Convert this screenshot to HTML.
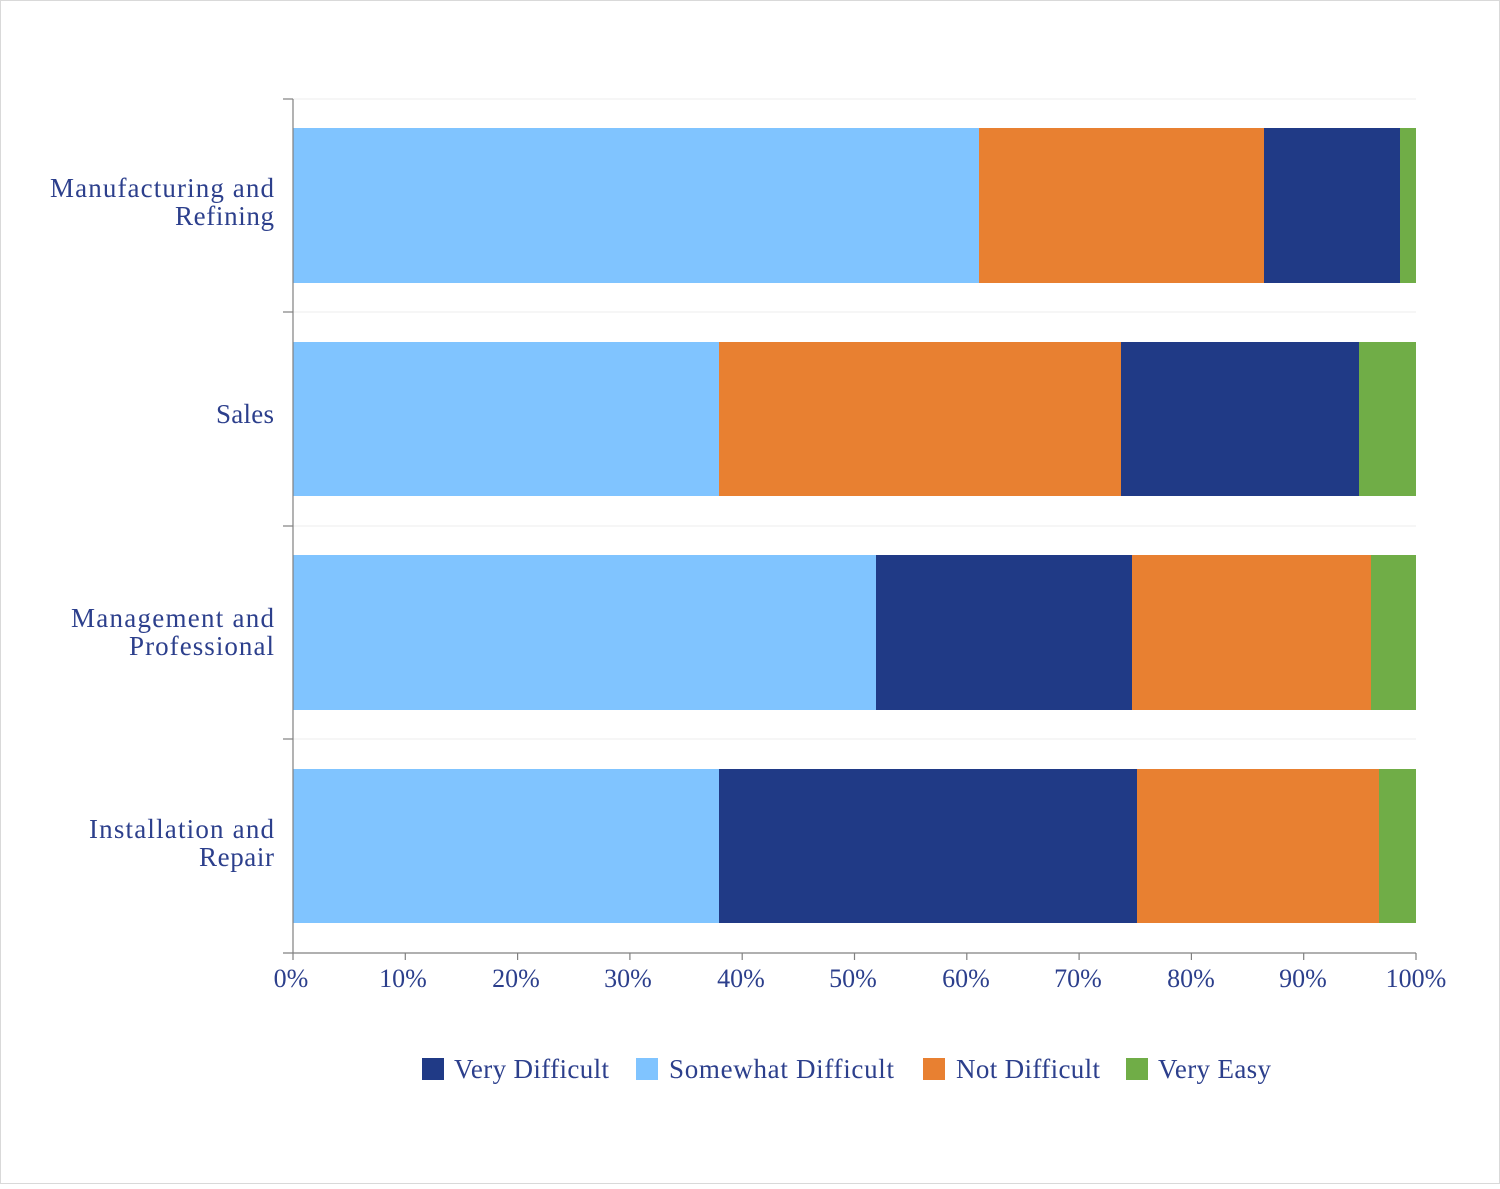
<!DOCTYPE html>
<html><head><style>body{margin:0;background:#fff}</style></head><body>
<svg width="1500" height="1184" xmlns="http://www.w3.org/2000/svg" font-family="Liberation Serif, serif" fill="#2c3f8c">
<rect x="0.5" y="0.5" width="1499" height="1183" fill="#fff" stroke="#d9d9d9"/>
<g stroke="#ececec" stroke-width="1">
<line x1="293" y1="99" x2="1416" y2="99"/><line x1="293" y1="312" x2="1416" y2="312"/>
<line x1="293" y1="526" x2="1416" y2="526"/><line x1="293" y1="739" x2="1416" y2="739"/>
</g>
<g>
<rect x="293" y="128" width="686" height="155" fill="#80c4ff"/>
<rect x="979" y="128" width="285" height="155" fill="#e88031"/>
<rect x="1264" y="128" width="136" height="155" fill="#203a86"/>
<rect x="1400" y="128" width="16" height="155" fill="#70ad47"/>
<rect x="293" y="342" width="426" height="154" fill="#80c4ff"/>
<rect x="719" y="342" width="402" height="154" fill="#e88031"/>
<rect x="1121" y="342" width="238" height="154" fill="#203a86"/>
<rect x="1359" y="342" width="57" height="154" fill="#70ad47"/>
<rect x="293" y="555" width="583" height="155" fill="#80c4ff"/>
<rect x="876" y="555" width="256" height="155" fill="#203a86"/>
<rect x="1132" y="555" width="239" height="155" fill="#e88031"/>
<rect x="1371" y="555" width="45" height="155" fill="#70ad47"/>
<rect x="293" y="769" width="426" height="154" fill="#80c4ff"/>
<rect x="719" y="769" width="418" height="154" fill="#203a86"/>
<rect x="1137" y="769" width="242" height="154" fill="#e88031"/>
<rect x="1379" y="769" width="37" height="154" fill="#70ad47"/>
</g>
<g stroke="#808080" stroke-width="1.2">
<line x1="293" y1="99" x2="293" y2="953"/>
<line x1="283" y1="953" x2="1416" y2="953"/>
<line x1="283" y1="99" x2="293" y2="99"/><line x1="283" y1="312" x2="293" y2="312"/>
<line x1="283" y1="526" x2="293" y2="526"/><line x1="283" y1="739" x2="293" y2="739"/>
<line x1="293" y1="953" x2="293" y2="960"/><line x1="405.3" y1="953" x2="405.3" y2="960"/>
<line x1="517.6" y1="953" x2="517.6" y2="960"/><line x1="629.9" y1="953" x2="629.9" y2="960"/>
<line x1="742.2" y1="953" x2="742.2" y2="960"/><line x1="854.5" y1="953" x2="854.5" y2="960"/>
<line x1="966.8" y1="953" x2="966.8" y2="960"/><line x1="1079.1" y1="953" x2="1079.1" y2="960"/>
<line x1="1191.4" y1="953" x2="1191.4" y2="960"/><line x1="1303.7" y1="953" x2="1303.7" y2="960"/>
<line x1="1416" y1="953" x2="1416" y2="960"/>
</g>
<g font-size="26" text-anchor="middle">
<text x="291" y="987">0%</text><text x="403" y="987">10%</text><text x="516" y="987">20%</text>
<text x="628" y="987">30%</text><text x="741" y="987">40%</text><text x="853" y="987">50%</text>
<text x="966" y="987">60%</text><text x="1078" y="987">70%</text><text x="1191" y="987">80%</text>
<text x="1303" y="987">90%</text><text x="1416" y="987">100%</text>
</g>
<g font-size="27" text-anchor="end">
<text x="274" y="197" textLength="224">Manufacturing and</text><text x="274" y="225" textLength="99">Refining</text>
<text x="274" y="423" textLength="58">Sales</text>
<text x="274" y="627" textLength="203">Management and</text><text x="274" y="655" textLength="145">Professional</text>
<text x="274" y="838" textLength="185">Installation and</text><text x="274" y="866" textLength="75">Repair</text>
</g>
<g font-size="27">
<rect x="422" y="1058" width="22" height="22" fill="#203a86"/><text x="454" y="1078" textLength="155">Very Difficult</text>
<rect x="636" y="1058" width="22" height="22" fill="#80c4ff"/><text x="669" y="1078" textLength="225">Somewhat Difficult</text>
<rect x="923" y="1058" width="22" height="22" fill="#e88031"/><text x="956" y="1078" textLength="144">Not Difficult</text>
<rect x="1126" y="1058" width="22" height="22" fill="#70ad47"/><text x="1158" y="1078" textLength="113">Very Easy</text>
</g>
</svg>
</body></html>
